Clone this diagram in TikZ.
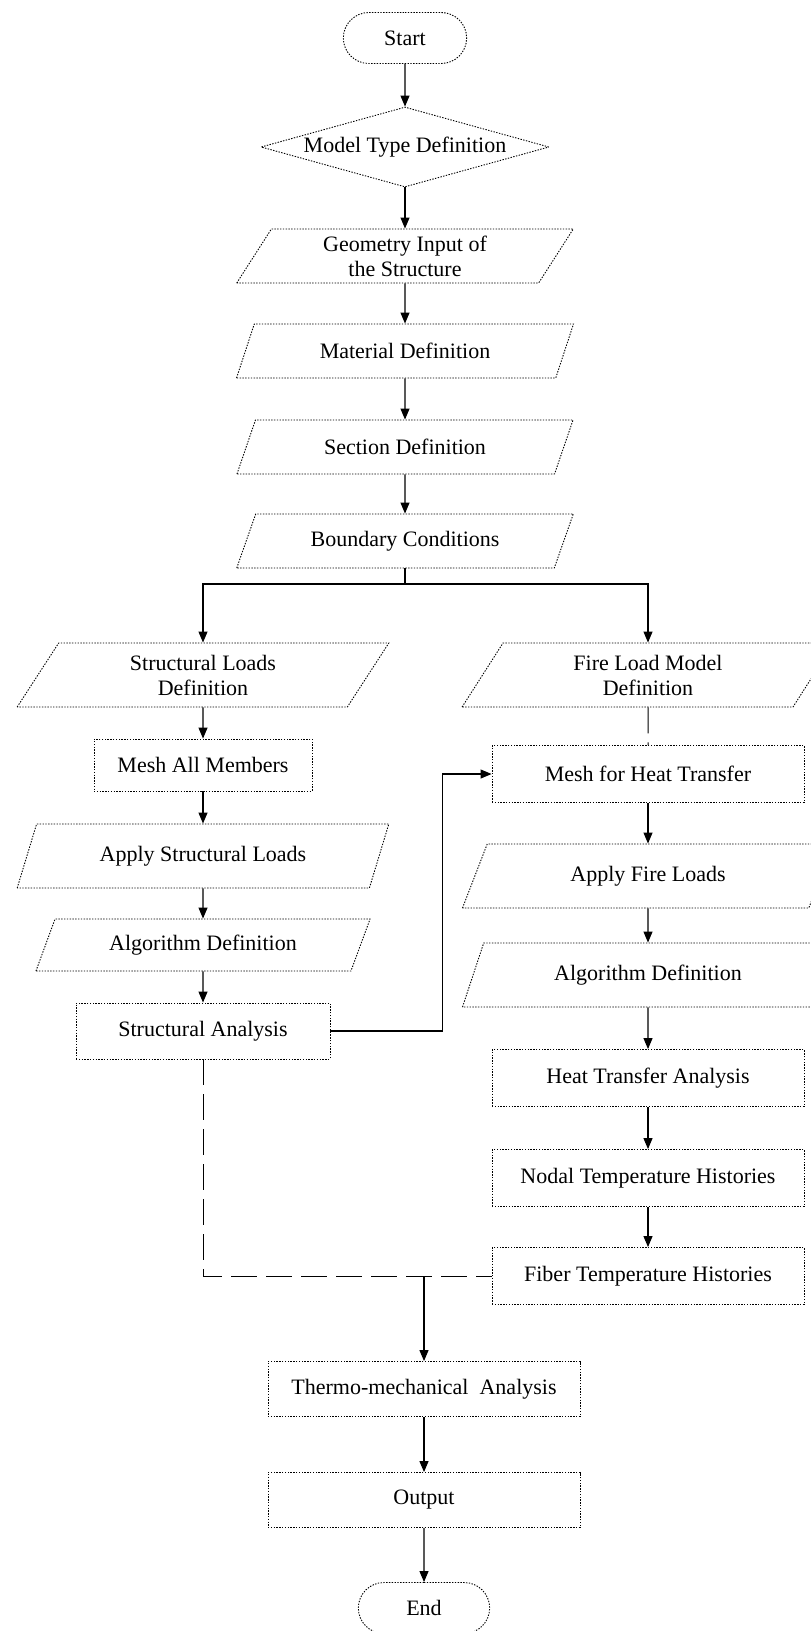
\documentclass[tikz,border=0pt]{standalone}
\usepackage{fontspec}
\setmainfont{Liberation Serif}
\usetikzlibrary{shapes.geometric,shapes.misc,arrows.meta,positioning}

\begin{document}
\begin{tikzpicture}[node distance=100pt,on grid,auto,
		>={Triangle[length=11pt,width=9pt]},
		font=\fontsize{22}{25}\selectfont,
		dots/.style={draw,dash pattern=on 1.4pt off 1.4pt,line width=0.9pt},
		term/.style={dots,rounded rectangle,minimum width=130pt,minimum height=51pt},
		decision/.style={dots,diamond,aspect=3.6,inner sep=0pt,minimum width=288pt,minimum height=80pt},
		io/.style={dots,trapezium,trapezium left angle=65,trapezium right angle=115,trapezium stretches=true,align=center,minimum width=337pt,minimum height=54pt},
		wide/.style={minimum width=372pt,minimum height=64pt},
		process/.style={dots,rectangle,align=center,minimum height=56pt},
		link/.style={line width=1.1pt},
		longdash/.style={line width=1pt,dash pattern=on 26pt off 9pt}]
	\useasboundingbox (0,0) rectangle (811pt,-1631pt);
	\node[term] (start) at (405pt,-38pt) {Start};
	\node[decision] (mtype) [below=109pt of start] {Model Type Definition};
	\node[io] (geom) [below=109pt of mtype] {Geometry Input of\\the Structure};
	\node[io] (mat) [below=95pt of geom] {Material Definition};
	\node[io] (sec) [below=96pt of mat] {Section Definition};
	\node[io] (bc) [below=94pt of sec] {Boundary Conditions};
	\coordinate[below=43pt of bc] (split);
	% structural side
	\node[io,wide] (sld) [below=134pt of bc,xshift=-202pt] {Structural Loads\\Definition};
	\node[process,minimum width=218pt,minimum height=52pt] (mesh) [below=90pt of sld] {Mesh All Members};
	\node[io,wide] (asl) [below=91pt of mesh] {Apply Structural Loads};
	\node[io,minimum width=335pt,minimum height=52pt] (algl) [below=89pt of asl] {Algorithm Definition};
	\node[process,minimum width=254pt] (sa) [below=86pt of algl] {Structural Analysis};
	% thermal side
	\node[io,wide] (fld) [below=134pt of bc,xshift=243pt] {Fire Load Model\\Definition};
	\node[process,minimum width=312pt,minimum height=57pt] (mht) [below=99pt of fld] {Mesh for Heat Transfer};
	\node[io,wide] (afl) [below=102pt of mht] {Apply Fire Loads};
	\node[io,wide] (algr) [below=99pt of afl] {Algorithm Definition};
	\node[process,minimum width=312pt,minimum height=57pt] (hta) [below=103pt of algr] {Heat Transfer Analysis};
	\node[process,minimum width=312pt,minimum height=57pt] (nth) [below=100pt of hta] {Nodal Temperature Histories};
	\node[process,minimum width=312pt,minimum height=57pt] (fth) [below=98pt of nth] {Fiber Temperature Histories};
	% coupled part
	\coordinate[left=224pt of fth] (merge);
	\node[process,minimum width=312pt,minimum height=55pt] (tma) [below=113pt of fth,xshift=-224pt] {Thermo-mechanical~ Analysis};
	\node[process,minimum width=312pt,minimum height=55pt] (out) [below=111pt of tma] {Output};
	\node[term,minimum width=138pt] (end) [below=108pt of out] {End};
	\coordinate[right=112pt of sa.east] (turn);

	\path[->,link]
	(start) edge (mtype)
	(mtype) edge (geom)
	(geom) edge (mat)
	(mat) edge (sec)
	(sec) edge (bc)
	(sld) edge (mesh)
	(mesh) edge (asl)
	(asl) edge (algl)
	(algl) edge (sa)
	(mht) edge (afl)
	(afl) edge (algr)
	(algr) edge (hta)
	(hta) edge (nth)
	(nth) edge (fth)
	(merge) edge (tma)
	(tma) edge (out)
	(out) edge (end);
	\draw[link] (bc) -- (split);
	\draw[->,link] (split) -| (sld);
	\draw[->,link] (split) -| (fld);
	\draw[->,link] (sa) -- (turn) |- (mht);
	\draw[longdash] (fld) -- (mht);
	\draw[longdash] (sa) |- (fth);
\end{tikzpicture}
\end{document}
